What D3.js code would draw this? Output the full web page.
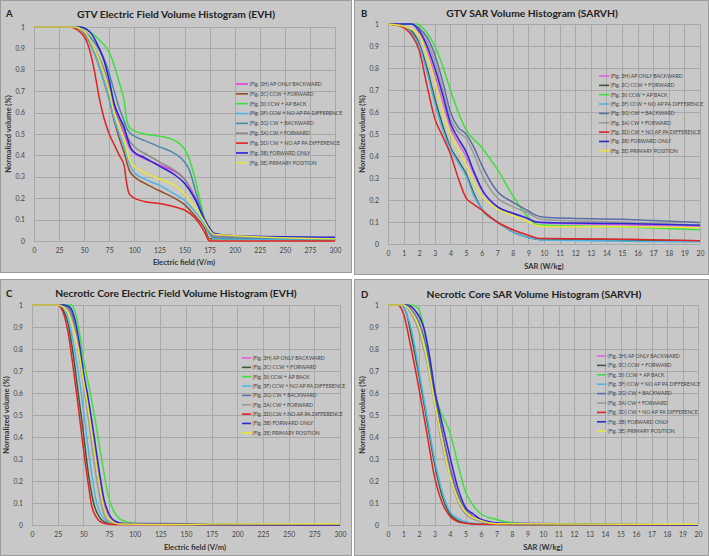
<!DOCTYPE html>
<html><head><meta charset="utf-8">
<script src="https://cdn.jsdelivr.net/npm/d3@7"></script>
<style>
html,body{margin:0;padding:0;background:#fff;}
svg{display:block;font-family:Lato,"Open Sans",sans-serif;}
</style></head>
<body>
<svg id="chart" width="709" height="556"></svg>
<script>
// ---------- DATA ----------
const seriesNames = [
  "(Fig. 3H) AP ONLY BACKWARD",
  "(Fig. 3C) CCW + FORWARD",
  "(Fig. 3I) CCW + AP BACK",
  "(Fig. 3F) CCW + NO AP PA DIFFERENCE",
  "(Fig. 3G) CW + BACKWARD",
  "(Fig. 3A) CW + FORWARD",
  "(Fig. 3D) CW + NO AP PA DIFFERENCE",
  "(Fig. 3B) FORWARD ONLY",
  "(Fig. 3E) PRIMARY POSITION"
];
const colorsA = ["#e03ce0","#9a4a22","#3ee03e","#4cb4e4","#4a8aa6","#8a8a8a","#e02222","#2222d8","#e6e63a"];
const colorsBCD = ["#e060e0","#3c5a3a","#3ee03e","#4cb4e4","#5a6ea6","#9a9a9a","#e02222","#2a2ad0","#e6e63a"];

const fieldTicks = [0,25,50,75,100,125,150,175,200,225,250,275,300];
const sarTicks = [0,1,2,3,4,5,6,7,8,9,10,11,12,13,14,15,16,17,18,19,20];
const volumeTicks = [0,0.1,0.2,0.3,0.4,0.5,0.6,0.7,0.8,0.9,1];

// Panel A: GTV EVH
const gtvEVH = [
  [[0,1],[40,1],[50,0.98],[60,0.9],[70,0.78],[75,0.7],[80,0.62],[85,0.56],[90,0.5],[95,0.44],[100,0.41],[110,0.385],[125,0.355],[140,0.325],[150,0.29],[160,0.21],[170,0.1],[175,0.05],[180,0.025],[200,0.02],[300,0.015]],
  [[0,1],[40,1],[50,0.97],[60,0.88],[70,0.74],[75,0.66],[80,0.56],[85,0.48],[90,0.41],[95,0.33],[100,0.3],[110,0.27],[125,0.235],[140,0.2],[150,0.17],[160,0.12],[170,0.06],[175,0.01],[300,0.005]],
  [[0,1],[45,1],[55,0.98],[65,0.94],[75,0.88],[80,0.82],[85,0.74],[90,0.65],[92,0.58],[95,0.53],[100,0.515],[110,0.5],[125,0.49],[140,0.47],[150,0.43],[155,0.38],[160,0.3],[165,0.2],[170,0.1],[175,0.04],[180,0.01],[200,0.01],[300,0.01]],
  [[0,1],[40,1],[50,0.97],[60,0.88],[70,0.74],[75,0.66],[80,0.57],[85,0.5],[90,0.44],[95,0.36],[100,0.32],[110,0.29],[125,0.26],[140,0.22],[150,0.19],[160,0.14],[170,0.08],[175,0.03],[180,0.01],[300,0.005]],
  [[0,1],[40,1],[50,0.98],[60,0.93],[70,0.85],[75,0.78],[80,0.7],[85,0.62],[90,0.56],[93,0.52],[100,0.49],[110,0.47],[125,0.44],[140,0.41],[150,0.37],[155,0.33],[160,0.25],[165,0.17],[170,0.1],[175,0.04],[180,0.015],[300,0.01]],
  [[0,1],[40,1],[50,0.97],[60,0.9],[70,0.8],[75,0.72],[80,0.64],[85,0.57],[90,0.52],[95,0.47],[100,0.44],[110,0.41],[125,0.37],[140,0.33],[150,0.29],[160,0.2],[170,0.1],[175,0.05],[180,0.02],[300,0.015]],
  [[0,1],[35,1],[45,0.98],[55,0.9],[60,0.8],[65,0.67],[70,0.57],[75,0.5],[80,0.45],[85,0.4],[90,0.35],[92,0.28],[95,0.22],[100,0.2],[110,0.185],[125,0.175],[140,0.16],[150,0.145],[160,0.11],[165,0.08],[170,0.04],[175,0],[300,0]],
  [[0,1],[45,1],[55,0.98],[65,0.9],[70,0.84],[75,0.75],[80,0.64],[85,0.58],[90,0.53],[93,0.48],[97,0.43],[100,0.415],[110,0.39],[125,0.35],[140,0.31],[150,0.27],[160,0.2],[170,0.1],[175,0.06],[180,0.035],[200,0.025],[300,0.018]],
  [[0,1],[40,1],[50,0.98],[60,0.9],[70,0.78],[75,0.7],[80,0.6],[85,0.54],[90,0.47],[95,0.38],[100,0.35],[110,0.32],[125,0.29],[140,0.26],[150,0.22],[160,0.16],[170,0.09],[175,0.05],[180,0.03],[300,0.01]]
];

// Panel B: GTV SARVH
const gtvSARVH = [
  [[0,1],[1.5,1],[2,0.96],[2.5,0.88],[3,0.77],[3.5,0.65],[4,0.53],[4.5,0.46],[5,0.4],[5.5,0.32],[6,0.25],[7,0.17],[8,0.14],[9,0.115],[9.5,0.1],[10,0.095],[15,0.088],[20,0.08]],
  [[0,1],[1,0.99],[1.5,0.97],[2,0.91],[2.5,0.8],[3,0.66],[3.5,0.54],[4,0.44],[4.5,0.38],[5,0.32],[5.5,0.23],[6,0.16],[7,0.1],[8,0.055],[9,0.03],[9.7,0.02],[20,0.015]],
  [[0,1],[1.8,1],[2.5,0.96],[3,0.9],[3.5,0.81],[4,0.7],[4.5,0.6],[5,0.52],[6,0.44],[7,0.34],[8,0.22],[9,0.12],[9.5,0.09],[10,0.085],[15,0.078],[20,0.065]],
  [[0,1],[1,0.99],[1.5,0.96],[2,0.9],[2.5,0.78],[3,0.64],[3.5,0.52],[4,0.43],[4.5,0.37],[5,0.31],[5.5,0.22],[6,0.16],[7,0.1],[8,0.055],[9,0.03],[9.7,0.02],[10,0.018],[20,0.01]],
  [[0,1],[1.5,1],[2,0.98],[2.5,0.94],[3,0.86],[3.5,0.74],[4,0.6],[4.5,0.53],[5,0.5],[5.5,0.44],[6,0.36],[7,0.24],[8,0.19],[9,0.15],[9.5,0.13],[10,0.122],[15,0.112],[20,0.098]],
  [[0,1],[1.5,1],[2,0.97],[2.5,0.92],[3,0.83],[3.5,0.7],[4,0.57],[4.5,0.51],[5,0.48],[5.5,0.41],[6,0.32],[7,0.21],[8,0.17],[9,0.14],[9.5,0.12],[10,0.11],[15,0.1],[20,0.085]],
  [[0,1],[0.8,0.99],[1.5,0.95],[2,0.88],[2.5,0.72],[3,0.57],[3.5,0.49],[4,0.41],[4.5,0.3],[5,0.21],[5.5,0.18],[6,0.155],[7,0.1],[8,0.065],[9,0.04],[9.7,0.025],[10,0.025],[20,0.015]],
  [[0,1],[1.5,1],[2,0.97],[2.5,0.9],[3,0.8],[3.5,0.68],[4,0.55],[4.5,0.48],[5,0.42],[5.5,0.33],[6,0.25],[7,0.17],[8,0.14],[9,0.115],[9.5,0.1],[10,0.098],[15,0.093],[20,0.085]],
  [[0,1],[1,0.99],[2,0.95],[2.5,0.86],[3,0.74],[3.5,0.6],[4,0.5],[4.5,0.43],[5,0.36],[5.5,0.28],[6,0.22],[7,0.16],[8,0.13],[9,0.1],[9.5,0.085],[10,0.08],[15,0.078],[20,0.075]]
];

// Panel C: Necrotic core EVH
const coreEVH = [
  [[0,1],[28,1],[35,0.99],[40,0.94],[45,0.82],[50,0.68],[55,0.55],[60,0.4],[65,0.24],[70,0.1],[75,0.04],[85,0.01],[100,0.002],[300,0]],
  [[0,1],[25,1],[30,0.98],[35,0.92],[40,0.78],[45,0.6],[50,0.42],[55,0.23],[60,0.1],[65,0.04],[70,0.015],[80,0.003],[300,0]],
  [[0,1],[32,1],[38,1],[42,0.97],[46,0.88],[50,0.76],[55,0.64],[60,0.52],[65,0.38],[70,0.24],[75,0.12],[80,0.06],[85,0.03],[95,0.01],[105,0.003],[300,0]],
  [[0,1],[25,1],[32,0.98],[38,0.88],[42,0.78],[48,0.6],[52,0.45],[57,0.27],[62,0.12],[67,0.05],[72,0.02],[80,0.005],[300,0]],
  [[0,1],[28,1],[35,0.99],[40,0.94],[45,0.8],[50,0.66],[55,0.52],[60,0.36],[65,0.2],[70,0.08],[75,0.03],[85,0.008],[300,0]],
  [[0,1],[25,1],[35,0.98],[40,0.92],[45,0.8],[50,0.64],[55,0.48],[60,0.3],[65,0.15],[70,0.05],[75,0.015],[85,0.004],[300,0]],
  [[0,1],[25,1],[30,0.97],[35,0.88],[40,0.72],[45,0.54],[50,0.35],[55,0.18],[58,0.09],[62,0.04],[65,0.02],[70,0.008],[80,0.002],[300,0]],
  [[0,1],[30,1],[37,0.99],[42,0.93],[47,0.8],[50,0.7],[55,0.57],[60,0.42],[65,0.26],[70,0.12],[75,0.05],[80,0.02],[90,0.005],[300,0]],
  [[0,1],[25,1],[33,0.98],[40,0.9],[45,0.8],[50,0.66],[55,0.52],[60,0.36],[65,0.2],[70,0.08],[75,0.03],[85,0.005],[150,0.002],[175,0.004],[300,0.004]]
];

// Panel D: Necrotic core SARVH
const coreSARVH = [
  [[0,1],[1.2,1],[1.8,0.97],[2.3,0.9],[2.7,0.75],[3,0.6],[3.5,0.42],[4,0.27],[4.5,0.14],[5,0.07],[6,0.025],[7,0.008],[20,0]],
  [[0,1],[0.8,1],[1.2,0.96],[1.5,0.86],[2,0.68],[2.5,0.48],[3,0.28],[3.5,0.13],[4,0.05],[4.5,0.02],[5,0.01],[6,0.003],[20,0]],
  [[0,1],[1,1],[1.5,1],[2,0.98],[2.3,0.9],[2.6,0.76],[3,0.6],[3.5,0.5],[4,0.42],[4.5,0.28],[5,0.15],[5.5,0.09],[6,0.05],[7,0.025],[8,0.01],[9,0.004],[10,0.002],[20,0]],
  [[0,1],[0.8,1],[1.2,0.96],[1.6,0.86],[2,0.7],[2.5,0.5],[3,0.3],[3.5,0.15],[4,0.06],[4.5,0.03],[5,0.015],[6,0.005],[20,0]],
  [[0,1],[1,1],[1.5,0.98],[2,0.92],[2.5,0.8],[3,0.6],[3.5,0.42],[4,0.26],[4.5,0.14],[5,0.07],[6,0.02],[7,0.008],[20,0]],
  [[0,1],[1,1],[1.5,0.96],[2,0.88],[2.5,0.74],[3,0.55],[3.5,0.36],[4,0.22],[4.5,0.11],[5,0.05],[6,0.015],[7,0.005],[20,0]],
  [[0,1],[0.6,1],[1,0.96],[1.5,0.8],[2,0.62],[2.5,0.42],[3,0.22],[3.5,0.1],[4,0.04],[4.5,0.015],[5,0.008],[6,0.003],[20,0]],
  [[0,1],[1.2,1],[1.8,0.97],[2.3,0.9],[2.7,0.76],[3,0.62],[3.5,0.46],[4,0.31],[4.5,0.17],[5,0.08],[5.5,0.05],[6,0.025],[7,0.01],[8,0.004],[20,0]],
  [[0,1],[1,1],[1.5,0.97],[2,0.9],[2.5,0.76],[3,0.56],[3.5,0.38],[4,0.22],[4.5,0.12],[5,0.06],[6,0.02],[7,0.006],[20,0.003]]
];

// ---------- DRAW ----------
const svg = d3.select("#chart");
const BG = "#c8c8c8", GRID = "#a9a9a9", FRAME = "#9c9c9c";

const panels = [
  {letter:"A", title:"GTV Electric Field Volume Histogram (EVH)", xTitle:"Electric field  (V/m)",
   box:[0,0,352,273], plot:{x0:34,x1:335,y1:27,y0:241}, xDom:[0,300], xTicks:fieldTicks, data:gtvEVH, colors:colorsA,
   titleX:176,titleY:18, letterX:6,letterY:17, xTitleX:184, xTitleY:265, yTitleX:11,
   legend:{x:236,y:84,dy:9.85,len:12}},
  {letter:"B", title:"GTV SAR Volume Histogram (SARVH)", xTitle:"SAR (W/kg)",
   box:[354,0,709,275], plot:{x0:388,x1:700,y1:24,y0:244}, xDom:[0,20], xTicks:sarTicks, data:gtvSARVH, colors:colorsBCD,
   titleX:532,titleY:17, letterX:361,letterY:17, xTitleX:544, xTitleY:269, yTitleX:365,
   legend:{x:599,y:76,dy:9.35,len:10}},
  {letter:"C", title:"Necrotic Core Electric Field Volume Histogram (EVH)", xTitle:"Electric field  (V/m)",
   box:[0,279,352,556], plot:{x0:32,x1:340,y1:305,y0:525}, xDom:[0,300], xTicks:fieldTicks, data:coreEVH, colors:colorsBCD,
   titleX:176,titleY:297, letterX:6,letterY:297, xTitleX:195, xTitleY:550, yTitleX:9,
   legend:{x:242,y:358,dy:9.35,len:9}},
  {letter:"D", title:"Necrotic Core SAR Volume Histogram (SARVH)", xTitle:"SAR (W/kg)",
   box:[354,279,709,556], plot:{x0:388,x1:698,y1:305,y0:525}, xDom:[0,20], xTicks:sarTicks, data:coreSARVH, colors:colorsBCD,
   titleX:534,titleY:298, letterX:361,letterY:298, xTitleX:543, xTitleY:550, yTitleX:365,
   legend:{x:597,y:356,dy:9.4,len:9}}
];

panels.forEach(p => {
  const g = svg.append("g");
  const [bx0,by0,bx1,by1] = p.box;
  g.append("rect").attr("x",bx0+0.5).attr("y",by0+0.5).attr("width",bx1-bx0-1).attr("height",by1-by0-1)
    .attr("fill",BG).attr("stroke",FRAME).attr("stroke-width",1);

  const x = d3.scaleLinear().domain(p.xDom).range([p.plot.x0,p.plot.x1]);
  const y = d3.scaleLinear().domain([0,1]).range([p.plot.y0,p.plot.y1]);

  // gridlines
  g.append("g").selectAll("line.v").data(p.xTicks).join("line")
    .attr("x1",d=>Math.round(x(d))+0.5).attr("x2",d=>Math.round(x(d))+0.5)
    .attr("y1",p.plot.y1).attr("y2",p.plot.y0).attr("stroke",GRID).attr("stroke-width",1);
  g.append("g").selectAll("line.h").data(volumeTicks).join("line")
    .attr("y1",d=>Math.round(y(d))+0.5).attr("y2",d=>Math.round(y(d))+0.5)
    .attr("x1",p.plot.x0).attr("x2",p.plot.x1).attr("stroke",GRID).attr("stroke-width",1);

  // axes labels (using d3 axes, lines hidden)
  const xAxis = g.append("g").attr("transform",`translate(0,${p.plot.y0})`)
    .call(d3.axisBottom(x).tickValues(p.xTicks).tickSize(0).tickPadding(7).tickFormat(d3.format("d")));
  const yAxis = g.append("g").attr("transform",`translate(${p.plot.x0},0)`)
    .call(d3.axisLeft(y).tickValues(volumeTicks).tickSize(0).tickPadding(9).tickFormat(d=>d===0?"0":d===1?"1":d3.format(".1f")(d)));
  [xAxis,yAxis].forEach(a=>{
    a.select(".domain").remove();
    a.selectAll("text").attr("fill","#444").style("font-size","6.8px").style("font-family","Lato,'Open Sans',sans-serif");
  });

  // series
  const line = d3.line().x(d=>x(d[0])).y(d=>y(d[1])).curve(d3.curveMonotoneX);
  g.append("g").selectAll("path").data(p.data).join("path")
    .attr("d",line).attr("fill","none")
    .attr("stroke",(d,i)=>p.colors[i]).attr("stroke-width",1.5).attr("stroke-linejoin","round");

  // titles
  g.append("text").attr("x",p.titleX).attr("y",p.titleY).attr("text-anchor","middle")
    .attr("font-weight","bold").attr("font-size","10.3px").attr("fill","#222").text(p.title);
  g.append("text").attr("x",p.letterX).attr("y",p.letterY)
    .attr("font-weight","bold").attr("font-size","9.5px").attr("fill","#222").text(p.letter);
  g.append("text").attr("x",p.xTitleX).attr("y",p.xTitleY).attr("text-anchor","middle")
    .attr("font-weight","bold").attr("font-size","7.6px").attr("fill","#333").text(p.xTitle);
  g.append("text").attr("transform",`translate(${p.yTitleX},${(p.plot.y0+p.plot.y1)/2}) rotate(-90)`)
    .attr("text-anchor","middle").attr("font-weight","bold").attr("font-size","7.6px").attr("fill","#333")
    .text("Normalized volume (%)");

  // legend
  const lg = g.append("g");
  seriesNames.forEach((name,i)=>{
    const ly = p.legend.y + i*p.legend.dy;
    lg.append("line").attr("x1",p.legend.x).attr("x2",p.legend.x+p.legend.len)
      .attr("y1",ly).attr("y2",ly).attr("stroke",p.colors[i]).attr("stroke-width",1.6);
    lg.append("text").attr("x",p.legend.x+p.legend.len+1.5).attr("y",ly+1.8)
      .attr("font-size","5.2px").attr("fill","#444").text(name);
  });
});
</script>
</body></html>
